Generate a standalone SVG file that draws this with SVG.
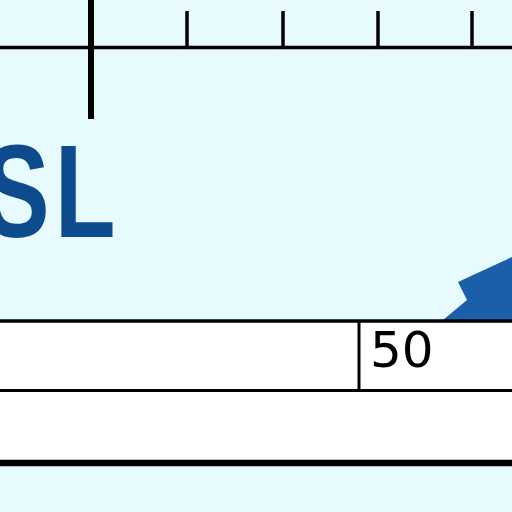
<svg xmlns="http://www.w3.org/2000/svg" width="512" height="512" viewBox="0 0 512 512">
<style>
.ln{stroke:#000;fill:none}
.num{font-family:"DejaVu Sans",sans-serif;font-size:50px;fill:#000}
.big{font-family:"Liberation Sans",Arial,sans-serif;font-weight:bold;font-size:131px;fill:#0D4A8E}
</style>
<rect width="512" height="512" fill="#E7FAFE"/>
<g id="axis">
<line class="ln" x1="0" y1="47.5" x2="512" y2="47.5" stroke-width="3.5"/>
<line class="ln" x1="91" y1="0" x2="91" y2="119" stroke-width="6"/>
<line class="ln" x1="187" y1="11" x2="187" y2="47" stroke-width="3.5"/>
<line class="ln" x1="283" y1="11" x2="283" y2="47" stroke-width="3.5"/>
<line class="ln" x1="378" y1="11" x2="378" y2="47" stroke-width="3.5"/>
<line class="ln" x1="472" y1="11" x2="472" y2="47" stroke-width="3.5"/>
</g>
<g id="label">
<text class="big" transform="translate(0,237) scale(0.76,1)" x="-22 72" y="0">SL</text>
</g>
<g id="arrow">
<polygon points="443,320 467,300 458,282 512,257 512,320" fill="#1B5EA9"/>
</g>
<g id="table">
<rect x="0" y="321" width="512" height="142" fill="#FFFFFF"/>
<line class="ln" x1="0" y1="321" x2="512" y2="321" stroke-width="3.5"/>
<line class="ln" x1="0" y1="390.5" x2="512" y2="390.5" stroke-width="3"/>
<line class="ln" x1="359" y1="321" x2="359" y2="390" stroke-width="3"/>
<line class="ln" x1="0" y1="463" x2="512" y2="463" stroke-width="6.5"/>
<text class="num" x="370" y="367">50</text>
</g>
</svg>
